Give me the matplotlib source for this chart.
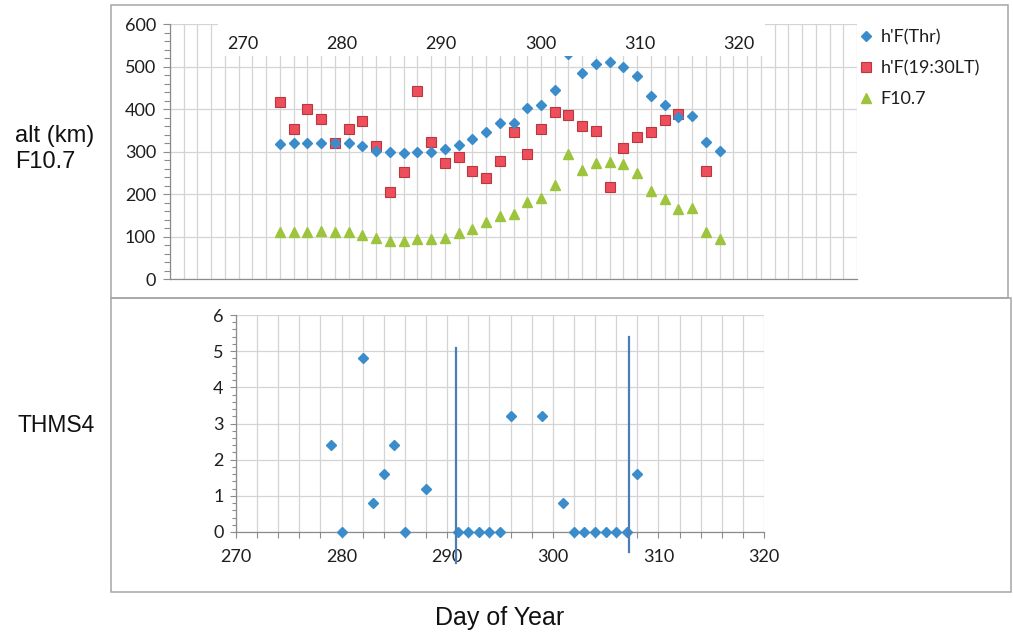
import numpy as np
import matplotlib
matplotlib.use("Agg")
import matplotlib.pyplot as plt
from matplotlib.ticker import MultipleLocator, FixedLocator
from matplotlib.patches import Rectangle

# ---------------- data ----------------
# top panel: 33 consecutive categories
top_cat = [0, 1, 2, 3, 4, 5, 6, 7, 8, 9, 10, 11, 12, 13, 14, 15, 16,
           17, 18, 19, 20, 21, 22, 23, 24, 25, 26, 27, 28, 29, 30, 31, 32]
hf_thr = [318, 321, 321, 321, 320, 321, 314, 303, 300, 298, 300, 300, 306,
          316, 329, 346, 367, 368, 402, 409, 445, 530, 486, 506, 511, 500,
          478, 432, 409, 381, 385, 324, 303]
hf_1930 = [418, 354, 400, 377, 320, 354, 372, 314, 205, 253, 443, 324, 274,
           288, 256, 238, 278, 347, 296, 353, 394, 387, 361, 349, 218, 310,
           335, 347, 375, 389, np.nan, 256, np.nan]
f107 = [111, 111, 111, 113, 111, 111, 104, 98, 91, 91, 94, 94, 98, 108, 119,
        134, 150, 153, 181, 191, 222, 296, 257, 273, 277, 271, 249, 208, 188,
        165, 168, 112, 96]
top_axis_ticks = [270, 280, 290, 300, 310, 320]
legend_labels = ["h'F(Thr)", "h'F(19:30LT)", "F10.7"]

# bottom panel
thms_days = [279, 280, 282, 283, 284, 285, 286, 288, 291, 292, 293, 294, 295,
             296, 299, 301, 302, 303, 304, 305, 306, 307, 308]
thms4 = [2.4, 0, 4.8, 0.8, 1.6, 2.4, 0, 1.2, 0, 0, 0, 0, 0,
         3.2, 3.2, 0.8, 0, 0, 0, 0, 0, 0, 1.6]
event_days = [290.85, 307.2]
event_top = [5.1, 5.4]
event_bottom = [-0.85, -0.55]

# ---------------- style ----------------
W, H = 1013, 633
fig = plt.figure(figsize=(W / 100, H / 100), dpi=100)

TICKFONT = ["Lato", "DejaVu Sans"]
LABFONT = ["Liberation Sans", "DejaVu Sans"]
GRID = "#D4D4D4"
AXC = "#8C8C8C"
TXT = "#1e1e1e"
BLUE = "#3A8CCB"
RED = "#EE4E5B"
REDE = "#B8383F"
GREEN = "#9CC43D"
TS = 13


def fx(px):
    return px / W


def fy(py):
    return 1 - py / H


# frames
for (x0, y0, x1, y1) in [(111, 5, 1008, 298), (111, 298, 1011, 592)]:
    fig.patches.append(Rectangle((fx(x0), fy(y1)), fx(x1) - fx(x0), fy(y0) - fy(y1),
                                 transform=fig.transFigure, fill=False,
                                 edgecolor="#A6A6A6", lw=1.1))

# ---------------- top panel ----------------
ax = fig.add_axes([fx(170), fy(279.3), fx(857) - fx(170), fy(24.3) - fy(279.3)])
ax.set_xlim(-8, 42)
ax.set_ylim(0, 600)
ax.xaxis.set_major_locator(MultipleLocator(1))
ax.yaxis.set_major_locator(MultipleLocator(100))
ax.yaxis.set_minor_locator(MultipleLocator(20))
ax.grid(True, which="major", color=GRID, lw=0.9)
ax.set_axisbelow(True)
for s in ["top", "right"]:
    ax.spines[s].set_visible(False)
for s in ["left", "bottom"]:
    ax.spines[s].set_color(AXC)
    ax.spines[s].set_linewidth(0.9)
ax.tick_params(axis="x", length=0, labelbottom=False)
ax.tick_params(axis="y", which="major", length=5, width=0.8, color=AXC,
               labelsize=TS, labelcolor=TXT, pad=5)
ax.tick_params(axis="y", which="minor", length=4, width=0.8, color=AXC)
for lab in ax.get_yticklabels():
    lab.set_family(TICKFONT)

h1, = ax.plot(top_cat, hf_thr, linestyle="none", marker="D", ms=4.8,
              color=BLUE, mec=BLUE, zorder=2.2)
h2, = ax.plot(top_cat, hf_1930, linestyle="none", marker="s", ms=7.2,
              color=RED, mec=REDE, mew=0.8, zorder=2.1)
h3, = ax.plot(top_cat, f107, linestyle="none", marker="^", ms=7.4,
              color=GREEN, mec=GREEN, zorder=2.0)

# white label band of the secondary axis
ax.add_patch(Rectangle(((218 - 170) / 687, (279.3 - 56) / 255),
                       (765 - 218) / 687, 0.14, transform=ax.transAxes,
                       facecolor="white", edgecolor="none", zorder=3,
                       clip_on=False))

ax2 = ax.twiny()
ax2.set_xlim(262.65, 331.9)
ax2.xaxis.set_major_locator(FixedLocator(top_axis_ticks))
ax2.tick_params(axis="x", top=True, bottom=False, labeltop=True,
                labelbottom=False, length=0, pad=-20, labelsize=TS,
                labelcolor=TXT)
for lab in ax2.get_xticklabels():
    lab.set_family(TICKFONT)
for s in ax2.spines.values():
    s.set_visible(False)

leg = ax.legend([h1, h2, h3], legend_labels, loc="upper left",
                bbox_to_anchor=(fx(861), fy(29)), bbox_transform=fig.transFigure,
                frameon=False, handlelength=0.6, handletextpad=0.5,
                labelspacing=0.82, borderpad=0, borderaxespad=0,
                prop={"family": TICKFONT, "size": TS})
for t in leg.get_texts():
    t.set_color(TXT)

# ---------------- bottom panel ----------------
bx = fig.add_axes([fx(236), fy(532), fx(764) - fx(236), fy(315) - fy(532)])
bx.set_xlim(270, 320)
bx.set_ylim(0, 6)
bx.xaxis.set_major_locator(MultipleLocator(10))
bx.xaxis.set_minor_locator(MultipleLocator(2))
bx.yaxis.set_major_locator(MultipleLocator(1))
bx.yaxis.set_minor_locator(MultipleLocator(0.2))
bx.grid(True, axis="y", which="major", color=GRID, lw=0.9)
bx.grid(True, axis="x", which="both", color=GRID, lw=0.9)
bx.set_axisbelow(True)
for s in ["top", "right"]:
    bx.spines[s].set_visible(False)
for s in ["left", "bottom"]:
    bx.spines[s].set_color(AXC)
    bx.spines[s].set_linewidth(0.9)
bx.tick_params(axis="x", which="both", length=4, width=0.8, color=AXC)
bx.tick_params(axis="x", which="major", labelsize=TS, labelcolor=TXT, pad=8)
bx.tick_params(axis="y", which="major", length=4, width=0.8, color=AXC,
               labelsize=TS, labelcolor=TXT, pad=5)
bx.tick_params(axis="y", which="minor", length=3, width=0.8, color=AXC)
for lab in bx.get_xticklabels() + bx.get_yticklabels():
    lab.set_family(TICKFONT)

bx.plot(thms_days, thms4, linestyle="none", marker="D", ms=4.8, color=BLUE,
        mec=BLUE, zorder=3, clip_on=False)
for d, t, b in zip(event_days, event_top, event_bottom):
    bx.plot([d, d], [b, t], color="#4A7EB5", lw=1.6, clip_on=False, zorder=4)

# ---------------- outer labels ----------------
fig.text(fx(15), fy(149), "alt (km)\nF10.7", ha="left", va="center",
         fontsize=17, family=LABFONT, color="#111111", linespacing=1.25)
fig.text(fx(17), fy(425), "THMS4", ha="left", va="center", fontsize=16.5,
         family=LABFONT, color="#111111")
fig.text(fx(500), fy(618), "Day of Year", ha="center", va="center",
         fontsize=18, family=LABFONT, color="#111111")

fig.savefig("out.png", dpi=100)
